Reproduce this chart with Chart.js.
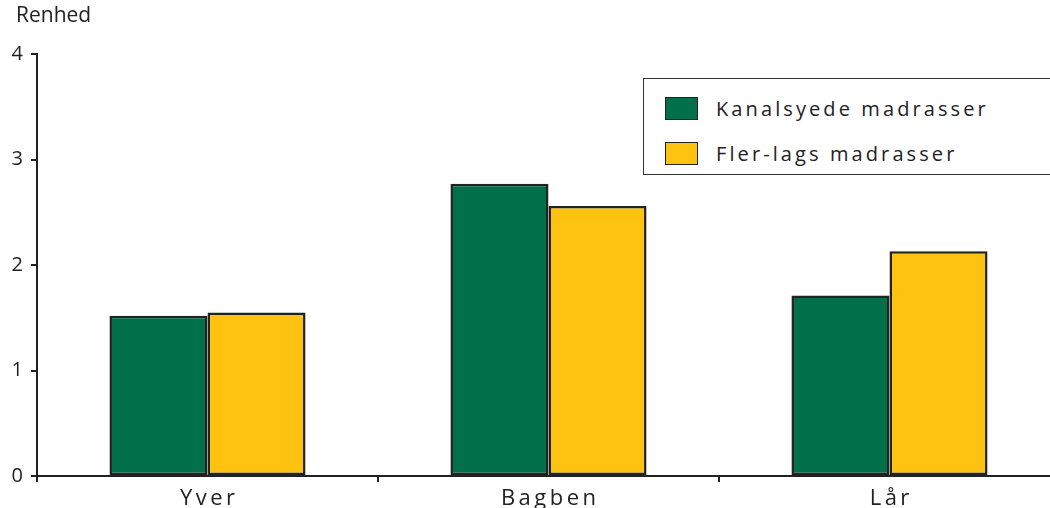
<!DOCTYPE html>
<html>
<head>
<meta charset="utf-8">
<script src="https://cdn.jsdelivr.net/npm/chart.js@4/dist/chart.umd.min.js"></script>
<style>
  html, body { margin: 0; padding: 0; background: #fff; }
  #wrap { position: relative; width: 1050px; height: 508px; overflow: hidden; }
  #c { position: absolute; left: 0; top: 0; }
  #legend {
    position: absolute; left: 643px; top: 78px; width: 440px; height: 97px;
    border: 1px solid #333; background: #fff; box-sizing: border-box;
    font-family: "Open Sans", sans-serif; font-size: 20px; color: #222; letter-spacing: 3.1px;
  }
  .row { position: absolute; left: 21px; display: flex; align-items: center; }
  .sw { width: 33px; height: 23px; border: 1px solid #222; box-sizing: border-box; margin-right: 18px; }
</style>
</head>
<body>
<div id="wrap">
  <canvas id="c" width="1060" height="508"></canvas>
  <div id="legend">
    <div class="row" style="top:16px"><div class="sw" style="background:#00704A"></div><span>Kanalsyede madrasser</span></div>
    <div class="row" style="top:61px"><div class="sw" style="background:#FEC211"></div><span>Fler-lags madrasser</span></div>
  </div>
</div>
<script>
// Data
const categories = ['Yver', 'Bagben', 'Lår'];
const kanalsyede = [1.52, 2.77, 1.71];
const flerlags = [1.55, 2.56, 2.13];
const yTicks = [0, 1, 2, 3, 4];

const darkLine = '#222';
const labelFont = '22px "Open Sans", sans-serif';

// axis title + letter-spaced category labels
const extras = {
    id: 'extras',
    afterDraw(chart) {
        const ctx = chart.ctx;
        const xs = chart.scales.x;
        ctx.save();
        ctx.font = '21px "Open Sans", sans-serif';
        ctx.fillStyle = '#222';
        ctx.textBaseline = 'top';
        ctx.fillText('Renhed', 16, 6);

        ctx.font = labelFont;
        ctx.textBaseline = 'alphabetic';
        const spacing = 3.5;
        categories.forEach((lab, i) => {
            const chars = Array.from(lab);
            const widths = chars.map(ch => ctx.measureText(ch).width);
            const total = widths.reduce((a, b) => a + b, 0) + spacing * (chars.length - 1);
            let x = xs.getPixelForTick(i) - total / 2;
            chars.forEach((ch, k) => {
                ctx.fillText(ch, x, 505);
                x += widths[k] + spacing;
            });
        });
        ctx.restore();
    }
};

new Chart(document.getElementById('c').getContext('2d'), {
    type: 'bar',
    data: {
        labels: categories,
        datasets: [
            {
                label: 'Kanalsyede madrasser',
                data: kanalsyede,
                backgroundColor: '#00704A',
                borderColor: darkLine,
                borderWidth: 2.5,
                borderSkipped: false
            },
            {
                label: 'Fler-lags madrasser',
                data: flerlags,
                backgroundColor: '#FEC211',
                borderColor: darkLine,
                borderWidth: 2.5,
                borderSkipped: false
            }
        ]
    },
    options: {
        responsive: false,
        animation: false,
        events: [],
        layout: { padding: { top: 54, left: 0, right: 0, bottom: 0 } },
        datasets: {
            bar: { categoryPercentage: 0.575, barPercentage: 1.0 }
        },
        plugins: {
            legend: { display: false },
            tooltip: { enabled: false }
        },
        scales: {
            x: {
                grid: { drawOnChartArea: false, tickLength: 6, color: darkLine, lineWidth: 2 },
                border: { color: darkLine, width: 2 },
                ticks: { display: false },
                afterFit(scale) { scale.height = 32; }
            },
            y: {
                min: 0,
                max: 4,
                afterBuildTicks(scale) { scale.ticks = yTicks.map(v => ({ value: v })); },
                grid: { drawOnChartArea: false, tickLength: 6, color: darkLine, lineWidth: 2 },
                border: { color: darkLine, width: 2 },
                ticks: {
                    color: '#222',
                    padding: 8,
                    font: { family: '"Open Sans", sans-serif', size: 20 }
                },
                afterFit(scale) { scale.width = 37; }
            }
        }
    },
    plugins: [extras]
});
</script>
</body>
</html>
